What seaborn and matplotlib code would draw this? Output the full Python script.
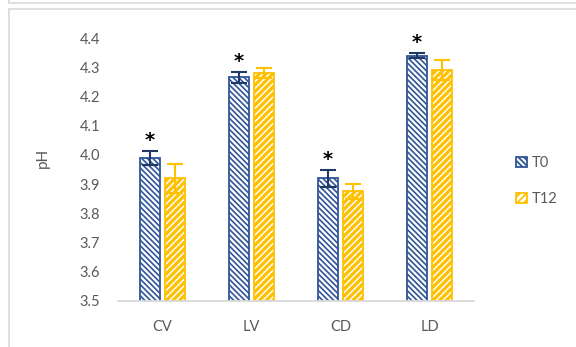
import matplotlib
matplotlib.use("Agg")
import matplotlib.pyplot as plt
from matplotlib.patches import Patch
from matplotlib.lines import Line2D
import seaborn as sns
import pandas as pd

categories = ["CV", "LV", "CD", "LD"]
t0_mean = [3.99, 4.265, 3.92, 4.34]
t12_mean = [3.92, 4.28, 3.875, 4.29]
t0_err = [0.025, 0.02, 0.03, 0.01]
t12_err = [0.05, 0.018, 0.026, 0.035]
significant = [True, True, True, True]
series = ["T0", "T12"]
yticks = [3.5, 3.6, 3.7, 3.8, 3.9, 4.0, 4.1, 4.2, 4.3, 4.4]

blue = "#2F5597"
blue_dark = "#203864"
gold = "#FFC000"
text_grey = "#595959"
axis_grey = "#D9D9D9"
hatch_t0 = "\\" * 6
hatch_t12 = "/" * 5

sns.set_theme(style="white")
plt.rcParams["font.family"] = ["Lato", "DejaVu Sans"]
plt.rcParams["hatch.linewidth"] = 1.3

df = pd.DataFrame({
    "cat": categories * 2,
    "series": [series[0]] * 4 + [series[1]] * 4,
    "pH": t0_mean + t12_mean,
})

fig = plt.figure(figsize=(5.76, 3.47), dpi=100)
ax = fig.add_axes([118 / 576, 1 - 301 / 347, 356 / 576, 263 / 347])

sns.barplot(data=df, x="cat", y="pH", hue="series", order=categories,
            hue_order=series, palette=[blue, gold], width=0.57, gap=0.2,
            errorbar=None, legend=False, ax=ax)

bars = ax.patches[:8]
styles = [(blue, hatch_t0), (gold, hatch_t12)]
for i, bar in enumerate(bars):
    color, hatch = styles[i // 4]
    bar.set_facecolor("white")
    bar.set_edgecolor(color)
    bar.set_hatch(hatch)
    bar.set_linewidth(1.3)
    if hasattr(bar, "set_hatch_linewidth"):
        bar.set_hatch_linewidth(1.2 if i < 4 else 2.3)

# error bars and significance marks
for k, (means, errs, col) in enumerate([(t0_mean, t0_err, blue_dark), (t12_mean, t12_err, gold)]):
    xs = [b.get_x() + b.get_width() / 2 for b in bars[k * 4:(k + 1) * 4]]
    ax.errorbar(xs, means, yerr=errs, fmt="none", ecolor=col, elinewidth=1.5,
                capsize=5.5, capthick=1.5, zorder=5)
    if k == 0:
        for x, m, e, s in zip(xs, means, errs, significant):
            if s:
                ax.annotate("*", (x, m + e), xytext=(0, 3.5), textcoords="offset points",
                            ha="center", va="baseline", fontsize=14, color="black",
                            family="DejaVu Sans", fontweight="bold")

ax.set_ylim(3.5, 4.4)
ax.set_xlim(-0.5, 3.5)
ax.set_yticks(yticks)
ax.set_yticklabels([f"{v:.1f}" for v in yticks])
ax.set_xlabel("")
ax.set_ylabel("")
ax.tick_params(axis="both", length=0, colors=text_grey, labelsize=10.5)
ax.tick_params(axis="y", pad=13)
ax.tick_params(axis="x", pad=14)
for side in ["top", "right", "left"]:
    ax.spines[side].set_visible(False)
ax.spines["bottom"].set_color(axis_grey)
ax.spines["bottom"].set_linewidth(1.3)
ax.grid(False)

fig.text(43 / 576, 1 - 158 / 347, "pH", rotation=90, ha="center", va="center",
         fontsize=11, color=text_grey)

handles = [Patch(facecolor="white", edgecolor=blue, hatch=hatch_t0, linewidth=1.3),
           Patch(facecolor="white", edgecolor=gold, hatch=hatch_t12, linewidth=1.3)]
fig.legend(handles, series, loc="center left", bbox_to_anchor=(503 / 576, 1 - 181 / 347),
           frameon=False, fontsize=10.5, labelcolor=text_grey, handlelength=0.75,
           handleheight=0.75, handletextpad=0.35, labelspacing=1.5)

# outer frame lines
frame = dict(color=axis_grey, linewidth=1.2, transform=fig.transFigure)
fig.add_artist(Line2D([8.5 / 576, 1], [1 - 9 / 347, 1 - 9 / 347], **frame))
fig.add_artist(Line2D([8.5 / 576, 8.5 / 576], [0, 1 - 9 / 347], **frame))
fig.add_artist(Line2D([8.5 / 576, 1], [1 - 3 / 347, 1 - 3 / 347], **frame))
fig.add_artist(Line2D([8.5 / 576, 8.5 / 576], [1 - 3 / 347, 1], **frame))

fig.savefig("out.png", dpi=100, facecolor="white")
